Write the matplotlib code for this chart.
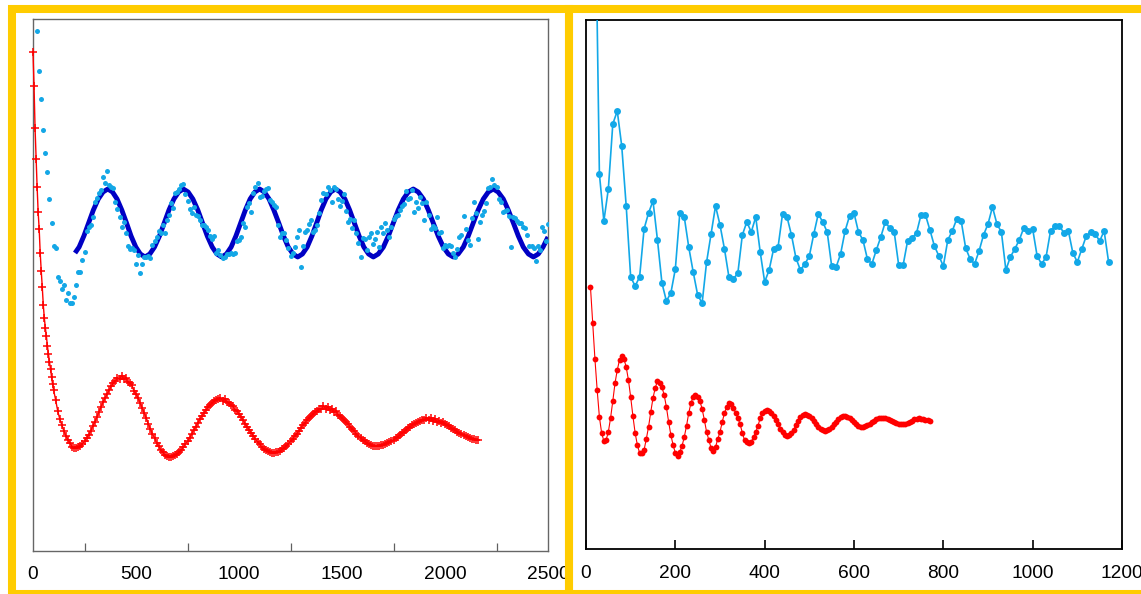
import numpy as np
import matplotlib
matplotlib.use('Agg')
import matplotlib.pyplot as plt
from matplotlib.patches import Rectangle

plt.rcParams['font.family'] = ['Liberation Sans', 'DejaVu Sans']

# ---- left panel data ----
# red decay, first part every 5 units from 0, then every 10 units from 100
red_left_head = [499, 465, 423, 392, 364, 339, 322, 298, 280, 264,
                 246, 233, 223, 215, 205, 197, 189, 182, 174, 167]
red_left_tail = [161, 151, 140, 132, 126, 120, 115, 111, 108, 104,
                 103, 103, 104, 105, 107, 110, 113, 116, 120, 125,
                 129, 134, 139, 144, 149, 153, 157, 161, 165, 168,
                 170, 173, 172, 175, 172, 173, 169, 168, 166, 160,
                 157, 153, 148, 143, 138, 133, 127, 122, 117, 113,
                 108, 105, 101, 99, 96, 95, 94, 94, 95, 96,
                 97, 99, 101, 104, 107, 110, 113, 117, 121, 124,
                 128, 132, 135, 138, 141, 144, 146, 148, 150, 151,
                 152, 153, 150, 152, 149, 148, 146, 145, 141, 140,
                 137, 134, 131, 127, 124, 121, 118, 115, 112, 109,
                 107, 104, 102, 101, 100, 99, 98, 98, 99, 99,
                 100, 102, 103, 105, 107, 110, 112, 115, 117, 120,
                 123, 126, 128, 131, 133, 135, 137, 139, 140, 142,
                 142, 145, 142, 144, 141, 142, 139, 140, 136, 135,
                 133, 131, 129, 127, 124, 122, 120, 117, 115, 113,
                 111, 110, 108, 107, 106, 105, 105, 105, 105, 106,
                 106, 107, 108, 109, 110, 111, 113, 114, 116, 118,
                 119, 121, 123, 124, 126, 127, 128, 129, 130, 131,
                 131, 133, 131, 133, 130, 132, 129, 130, 128, 129,
                 127, 126, 125, 123, 122, 121, 119, 118, 117, 116,
                 115, 114, 113, 112, 112, 111, 111]

# light blue measured points, every 10 units from 20
dots_left = [520, 480, 452, 421, 398, 379, 352, 328, 305, 303,
             274, 270, 262, 266, 251, 258, 248, 248, 254, 266,
             279, 279, 291, 299, 320, 324, 326, 334, 349, 353,
             358, 361, 374, 368, 380, 366, 364, 363, 349, 342,
             334, 324, 329, 318, 305, 302, 303, 301, 287, 296,
             278, 287, 294, 294, 295, 293, 306, 310, 314, 320,
             318, 326, 318, 331, 336, 348, 343, 358, 359, 362,
             366, 367, 357, 350, 342, 338, 344, 336, 335, 331,
             326, 326, 324, 321, 315, 312, 315, 298, 301, 296,
             293, 294, 297, 297, 298, 297, 298, 310, 311, 314,
             328, 324, 344, 348, 339, 358, 364, 368, 354, 355,
             360, 362, 363, 351, 349, 346, 344, 326, 314, 318,
             318, 311, 303, 295, 298, 304, 314, 321, 284, 305,
             319, 321, 327, 331, 319, 321, 326, 338, 351, 358,
             357, 364, 361, 349, 364, 362, 352, 345, 350, 357,
             340, 329, 332, 323, 331, 318, 308, 294, 313, 312,
             301, 314, 318, 307, 312, 319, 304, 324, 318, 328,
             321, 314, 324, 332, 335, 336, 341, 345, 347, 360,
             352, 353, 361, 339, 349, 343, 354, 348, 331, 349,
             336, 322, 325, 323, 334, 318, 319, 303, 306, 305,
             306, 305, 298, 294, 302, 314, 316, 335, 322, 311,
             306, 333, 349, 338, 312, 329, 336, 340, 348, 363,
             364, 372, 366, 364, 352, 349, 339, 340, 341, 335,
             304, 334, 333, 330, 328, 328, 324, 323, 316, 305,
             305, 303, 290, 305, 301, 324, 320, 310, 327]

# dark blue fitted curve
fit_x = [204, 224, 247, 270, 293, 317, 340, 363,
         386, 408, 431, 454, 476, 499, 521, 544,
         567, 590, 614, 637, 660, 684, 707, 730,
         753, 776, 800, 823, 846, 870, 893, 916,
         939, 962, 985, 1008, 1031, 1054, 1077, 1100,
         1123, 1146, 1169, 1193, 1216, 1239, 1262, 1285,
         1308, 1331, 1354, 1377, 1399, 1422, 1445, 1468,
         1491, 1514, 1537, 1560, 1583, 1606, 1629, 1652,
         1676, 1701, 1725, 1749, 1773, 1798, 1822, 1846,
         1870, 1895, 1919, 1943, 1967, 1992, 2016, 2040,
         2064, 2089, 2113, 2137, 2161, 2186, 2210, 2234,
         2258, 2283, 2307, 2332, 2356, 2380, 2405, 2429,
         2453, 2476, 2500]
fit_y = [298, 304, 315, 328, 341, 352, 359, 362,
         359, 352, 341, 328, 315, 304, 297, 294,
         297, 304, 315, 328, 341, 352, 359, 362,
         359, 352, 341, 328, 315, 304, 297, 294,
         297, 304, 315, 328, 341, 352, 359, 362,
         359, 352, 341, 328, 315, 304, 297, 294,
         297, 304, 315, 328, 341, 352, 359, 362,
         359, 352, 341, 328, 315, 304, 297, 294,
         297, 304, 315, 328, 341, 352, 359, 362,
         359, 352, 341, 328, 315, 304, 297, 294,
         297, 304, 315, 328, 341, 352, 359, 362,
         359, 352, 341, 328, 315, 304, 297, 294,
         297, 304, 314]

# ---- right panel data ----
# blue, every 10 units from 20
blue_right = [680, 375, 328, 360, 425, 438, 403, 343, 272, 263,
              272, 320, 336, 348, 309, 266, 248, 256, 280, 336,
              332, 302, 277, 254, 246, 287, 315, 343, 324, 300,
              272, 270, 276, 314, 327, 317, 332, 297, 267, 279,
              300, 302, 335, 332, 314, 291, 279, 285, 293, 315,
              335, 327, 317, 283, 282, 295, 318, 333, 336, 317,
              309, 290, 285, 299, 312, 327, 321, 317, 284, 284,
              308, 311, 316, 334, 334, 319, 303, 293, 283, 309,
              318, 330, 328, 301, 290, 285, 298, 314, 325, 342,
              325, 317, 279, 292, 300, 309, 321, 318, 320, 293,
              285, 292, 318, 323, 323, 316, 318, 296, 287, 300,
              313, 317, 315, 308, 318, 287]
# red, every 5 units from 10
red_right = [262, 226, 190, 159, 132, 116, 108, 109, 117, 131,
             148, 166, 179, 189, 193, 190, 182, 169, 152, 133,
             116, 104, 96, 96, 99, 110, 122, 137, 151, 161,
             168, 166, 162, 154, 142, 127, 114, 104, 96, 93,
             97, 103, 112, 123, 136, 146, 152, 154, 152, 148,
             140, 129, 117, 109, 101, 98, 102, 110, 117, 127,
             136, 142, 146, 145, 141, 136, 131, 125, 116, 109,
             107, 106, 107, 112, 117, 123, 131, 136, 138, 139,
             138, 136, 133, 129, 125, 120, 117, 114, 113, 114,
             116, 119, 124, 128, 132, 134, 135, 134, 133, 131,
             128, 125, 122, 120, 119, 118, 119, 120, 122, 125,
             127, 130, 132, 133, 133, 132, 131, 129, 127, 125,
             123, 122, 122, 123, 124, 125, 127, 128, 130, 131,
             131, 131, 131, 130, 129, 128, 127, 126, 125, 125,
             125, 125, 126, 127, 128, 130, 130, 131, 130, 130,
             129, 129, 128]

left_ticks = [0, 500, 1000, 1500, 2000, 2500]
left_minor = [250, 750, 1250, 1750, 2250]
right_ticks = [0, 200, 400, 600, 800, 1000, 1200]

red_left_x = np.concatenate([5 * np.arange(len(red_left_head)),
                             100 + 10 * np.arange(len(red_left_tail))])
red_left_y = red_left_head + red_left_tail
dots_left_x = 20 + 10 * np.arange(len(dots_left))
blue_right_x = 20 + 10 * np.arange(len(blue_right))
red_right_x = 10 + 5 * np.arange(len(red_right))

W, H = 1141, 594
fig = plt.figure(figsize=(W / 100, H / 100), dpi=100)

# left panel
ax1 = fig.add_axes([33 / W, 43 / H, 515 / W, 532 / H])
ax1.plot(fit_x, fit_y, color='#0000c4', lw=3.5, zorder=2, solid_capstyle='butt')
ax1.plot(dots_left_x, dots_left, ls='none', marker='o', ms=3.6,
         color='#14a7e6', mew=0, zorder=3)
ax1.plot(red_left_x, red_left_y, color='#ff0000', lw=1.0, marker='+',
         ms=6, mew=1.1, zorder=4, clip_on=False)
ax1.set_xlim(0, 2500)
ax1.set_ylim(0, 532)
ax1.set_yticks([])
ax1.set_xticks(left_ticks)
ax1.set_xticks(left_minor, minor=True)
ax1.tick_params(axis='x', which='major', length=0, labelsize=13.8, pad=10.5)
ax1.tick_params(axis='x', which='minor', direction='in', length=5.5,
                width=0.9, color='#606060')
for s in ax1.spines.values():
    s.set_color('#666666')
    s.set_linewidth(1.0)

# right panel
ax2 = fig.add_axes([586 / W, 45 / H, 536 / W, 529 / H])
ax2.plot(blue_right_x, blue_right, color='#12a8e8', lw=1.2, marker='o',
         ms=5, mew=0, zorder=3)
ax2.plot(red_right_x, red_right, color='#ff0000', lw=0.8, marker='o',
         ms=4.2, mew=0, zorder=4)
ax2.set_xlim(0, 1200)
ax2.set_ylim(0, 529)
ax2.set_yticks([])
ax2.set_xticks(right_ticks)
ax2.tick_params(axis='x', direction='in', length=6.5, width=1.2,
                color='black', labelsize=13.8, pad=11.5)
for s in ax2.spines.values():
    s.set_color('black')
    s.set_linewidth(1.3)

# yellow frames
yellow = '#ffcc00'
fig.add_artist(Rectangle((12 / W, 0), 557 / W, 585 / H, transform=fig.transFigure,
                         fill=False, edgecolor=yellow, lw=5.8, zorder=5))
fig.add_artist(Rectangle((569 / W, 0), 590 / W, 585 / H, transform=fig.transFigure,
                         fill=False, edgecolor=yellow, lw=5.8, zorder=5))

fig.savefig('out.png', dpi=100)
